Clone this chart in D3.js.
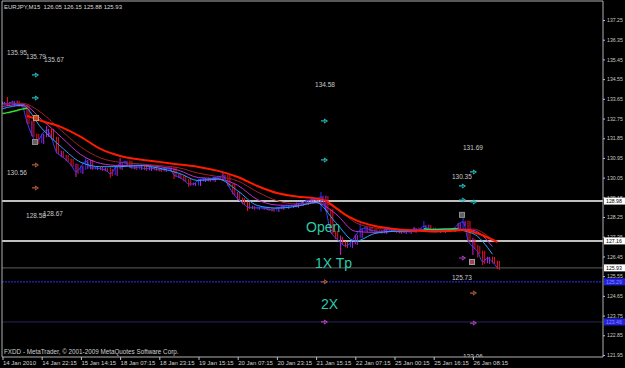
<!DOCTYPE html>
<html><head><meta charset="utf-8">
<script src="https://cdn.jsdelivr.net/npm/d3@7"></script>
<style>body{margin:0;background:#000}svg{display:block}</style></head>
<body>
<svg id="c" width="625" height="368"></svg>
<script>
// ---- data ----
const title = "EURJPY,M15  126.05 126.15 125.88 125.93";
const copyright = "FXDD - MetaTrader, \u00A9 2001-2009 MetaQuotes Software Corp.";
const timeLabels = ["14 Jan 2010","14 Jan 22:15","15 Jan 14:15","18 Jan 07:15","18 Jan 23:15","19 Jan 15:15","20 Jan 07:15","20 Jan 23:15","21 Jan 15:15","22 Jan 07:15","25 Jan 00:15","25 Jan 16:15","26 Jan 08:15"];
const timeTickIdx = [0,8,16,24,32,40,48,56,64,72,80,88,96];
const priceTicks = [137.25,136.35,135.45,134.55,133.65,132.75,131.85,130.95,130.05,129.15,128.25,127.35,126.45,125.55,124.65,123.75,122.85,121.95];
const closes = [133.46,133.41,133.51,133.37,133.32,132.59,132.00,131.68,132.00,132.23,131.86,131.22,131.04,130.86,130.63,130.31,130.54,130.81,130.49,130.49,130.45,130.40,130.22,130.49,130.72,130.77,130.54,130.49,130.54,130.45,130.49,130.45,130.40,130.45,130.49,130.17,130.08,129.94,129.76,129.76,129.94,129.99,129.94,130.04,130.08,130.13,129.72,129.35,129.08,128.89,128.71,128.67,128.67,128.67,128.62,128.57,128.67,128.71,128.76,128.76,128.85,128.89,128.99,129.03,129.08,129.17,128.57,127.57,127.30,127.07,126.93,127.07,127.39,127.66,127.75,127.66,127.62,127.57,127.66,127.66,127.62,127.57,127.57,127.62,127.71,127.66,127.84,127.71,127.62,127.62,127.66,127.66,127.71,127.93,128.03,127.20,126.88,126.66,126.20,126.38,126.20,125.93];
const spikeIdx  = [1,9,15,17,22,24,35,38,45,50,65,69,73,84,86,94,96,97,98];
const spikeHigh = [133.73,132.40,130.60,130.95,130.50,130.95,130.50,129.90,130.31,128.90,129.40,127.40,127.98,127.80,128.07,128.35,127.30,126.98,126.50];
const spikeLow  = [133.30,131.90,130.08,130.40,130.04,130.45,129.99,129.62,129.90,128.53,128.50,126.52,127.30,127.55,127.60,127.70,126.52,126.40,126.06];
const maIdx  = [0,4,8,12,16,20,24,28,32,36,40,44,48,52,56,60,64,68,72,76,80,84,88,92,96,100];
const maFast = [133.20,133.35,132.30,131.45,130.75,130.55,130.55,130.60,130.48,130.25,129.92,129.98,129.45,128.78,128.66,128.74,128.92,128.00,127.15,127.50,127.60,127.62,127.70,127.68,127.50,126.55];
const maMid  = [133.30,133.40,132.70,131.90,131.10,130.70,130.60,130.62,130.55,130.38,130.05,130.00,129.70,129.05,128.80,128.78,128.90,128.40,127.60,127.55,127.60,127.62,127.68,127.70,127.65,126.90];
const maSlow = [133.40,133.45,133.00,132.20,131.45,130.95,130.75,130.68,130.60,130.50,130.25,130.10,129.90,129.40,129.00,128.85,128.92,128.70,128.00,127.75,127.68,127.64,127.66,127.70,127.70,127.20];
const redIdx = [5,8,12,16,20,24,28,32,36,40,44,48,52,56,60,64,66,68,70,72,76,80,84,88,92,94,97,101];
const redMA  = [132.87,132.64,132.36,131.91,131.36,131.04,130.88,130.77,130.65,130.54,130.36,130.08,129.67,129.35,129.19,129.10,128.99,128.67,128.35,128.12,127.84,127.71,127.64,127.59,127.62,127.66,127.50,127.11];
const greenIdx = [0,1,2,3,4,5];
const greenMA  = [132.98,133.02,133.07,133.12,133.18,133.22];
const greenIdx2 = [86,88,90,92,93];
const greenMA2  = [127.72,127.68,127.70,127.72,127.74];
const levelPrices = [128.98,127.16,125.93,125.29,123.46];
const levelLabels = ["128.98","127.16","125.93","125.29","123.46"];
const levelKinds  = ["white","white","bid","blue","navy"];
const noteText  = ["135.95","135.79","135.67","130.56","128.58","128.67","134.58","131.69","130.35","125.73","122.06"];
const noteIdx   = [0.92,4.8,8.47,0.92,4.8,8.27,63.78,93.98,91.73,91.73,93.98];
const notePrice = [135.63,135.47,135.31,130.17,128.21,128.30,134.21,131.29,129.97,125.36,121.79];
const bigText  = ["Open","1X Tp","2X"];
const bigIdx   = [61.94,63.78,65.0];
const bigPrice = [127.57,125.93,124.05];
const arrowIdx   = [6.63,6.63,65.61,65.61,96.02,93.78,93.78,96.02, 6.63,6.63,65.61,96.02, 93.78,65.61,96.02];
const arrowPrice = [134.74,133.69,132.64,130.86,130.31,129.67,129.03,128.94, 130.63,129.58,125.29,124.78, 126.38,123.46,123.41];
const arrowKind  = ["cyan","cyan","cyan","cyan","cyan","cyan","cyan","cyan","brown","brown","brown","brown","mag","mag","mag"];
const boxIdx   = [6.84,6.63,93.78,95.82];
const boxPrice = [132.77,131.68,128.35,126.20];
const boxKind  = ["orange","gray","gray","pink"];

// ---- drawing ----
const svg = d3.select("#c");
const W = 625, H = 368, plotR = 603, plotB = 357, plotL = 2, plotT = 1;
svg.append("rect").attr("width",W).attr("height",H).attr("fill","#000");
const x = d3.scaleLinear().domain([0,96]).range([2.5,472.9]);
const y = d3.scaleLinear().domain([137.25,121.95]).range([20,355]);
const font = "Liberation Sans, Arial, sans-serif";

const g = svg.append("g");
// horizontal levels
const lvlStyle = {white:{c:"#ffffff",w:1.5,d:null},bid:{c:"#4a4a4a",w:1.2,d:null},blue:{c:"#2a2aff",w:1,d:"2,1"},navy:{c:"#26265a",w:1,d:null}};
levelPrices.forEach((p,i)=>{
  const s = lvlStyle[levelKinds[i]];
  g.append("line").attr("x1",plotL).attr("x2",plotR).attr("y1",y(p)).attr("y2",y(p))
   .attr("stroke",s.c).attr("stroke-width",s.w).attr("stroke-dasharray",s.d);
});

// candles
const candles = closes.map((c,i)=>{
  const o = i>0 ? closes[i-1] : c;
  let hi = Math.max(o,c)+0.06, lo = Math.min(o,c)-0.06;
  const k = spikeIdx.indexOf(i);
  if(k>=0){ hi = Math.max(hi,spikeHigh[k]); lo = Math.min(lo,spikeLow[k]); }
  return {i,o,c,hi,lo};
});
g.selectAll(".wick").data(candles).join("line")
  .attr("x1",d=>x(d.i)).attr("x2",d=>x(d.i)).attr("y1",d=>y(d.hi)).attr("y2",d=>y(d.lo))
  .attr("stroke",(d)=> d.i%3===0 ? "#d020d0" : (d.c>=d.o ? "#3030ff" : "#ff1010")).attr("stroke-width",1);
g.selectAll(".wick2").data(candles).join("line")
  .attr("x1",d=>x(d.i)+2).attr("x2",d=>x(d.i)+2).attr("y1",d=>y(Math.max(d.o,d.c))-1).attr("y2",d=>y(Math.min(d.o,d.c))+2)
  .attr("stroke",d=> d.c>=d.o ? "#c020e0" : "#e01030").attr("stroke-width",1);

const lineIdx = d3.line().x(d=>x(d[0])).y(d=>y(d[1])).curve(d3.curveMonotoneX);
const zip = (a,b)=>a.map((v,i)=>[v,b[i]]);
g.append("path").attr("d",lineIdx(zip(maSlow.map((_,i)=>maIdx[i]),maSlow))).attr("fill","none").attr("stroke","#a02020").attr("stroke-width",1);
g.append("path").attr("d",lineIdx(zip(maIdx,maMid))).attr("fill","none").attr("stroke","#c030d0").attr("stroke-width",1);
g.append("path").attr("d",lineIdx(zip(closes.map((_,i)=>i),closes))).attr("fill","none").attr("stroke","#4040ff").attr("stroke-width",1);
g.append("path").attr("d",lineIdx(zip(maIdx,maFast))).attr("fill","none").attr("stroke","#20a8ff").attr("stroke-width",1);
g.append("path").attr("d",lineIdx(zip(greenIdx,greenMA))).attr("fill","none").attr("stroke","#30e030").attr("stroke-width",1.5);
g.append("path").attr("d",lineIdx(zip(greenIdx2,greenMA2))).attr("fill","none").attr("stroke","#30e030").attr("stroke-width",1.2);
g.append("path").attr("d",lineIdx(zip(redIdx,redMA))).attr("fill","none").attr("stroke","#ff1a00").attr("stroke-width",2);

// boxes
const boxCol = {orange:["#d0a060","#c04020"],gray:["#909090","#606060"],pink:["#a0a0a0","#a04060"]};
boxIdx.forEach((bi,i)=>{
  g.append("rect").attr("x",x(bi)-2.5).attr("y",y(boxPrice[i])-2.5).attr("width",5).attr("height",5)
   .attr("fill",boxCol[boxKind[i]][1]).attr("stroke",boxCol[boxKind[i]][0]).attr("stroke-width",1);
});
// arrows
const arrCol = {cyan:"#22b8b8",brown:"#b05a3a",mag:"#b040c0"};
arrowIdx.forEach((ai,i)=>{
  const cx = x(ai), cy = y(arrowPrice[i]);
  const p = `M${cx-3},${cy} L${cx+1},${cy} M${cx},${cy-2} L${cx+3},${cy} L${cx},${cy+2}`;
  g.append("path").attr("d",p).attr("fill","none").attr("stroke",arrCol[arrowKind[i]]).attr("stroke-width",1.2);
});
// notes
noteText.forEach((t,i)=>{
  g.append("text").attr("x",x(noteIdx[i])).attr("y",y(notePrice[i])).text(t)
   .attr("fill","#c8c8c8").attr("font-family",font).attr("font-size",6.5);
});
bigText.forEach((t,i)=>{
  g.append("text").attr("x",x(bigIdx[i])).attr("y",y(bigPrice[i])).text(t)
   .attr("fill","#30c8a8").attr("font-family",font).attr("font-size",14);
});

// frame
svg.append("rect").attr("x",0).attr("y",plotB).attr("width",W).attr("height",H-plotB).attr("fill","#000");
svg.append("rect").attr("x",plotR).attr("y",0).attr("width",W-plotR).attr("height",H).attr("fill","#000");
svg.append("path").attr("d",`M${plotL},${plotB} L${plotL},${plotT} L${plotR},${plotT} L${plotR},${plotB} Z`)
  .attr("fill","none").attr("stroke","#b0b0b0").attr("stroke-width",1);

// x axis
const xa = svg.append("g").attr("transform",`translate(0,${plotB})`)
  .call(d3.axisBottom(x).tickValues(timeTickIdx).tickFormat((d,i)=>timeLabels[i]).tickSize(3).tickPadding(1));
xa.select(".domain").remove();
xa.selectAll("line").attr("stroke","#c0c0c0");
xa.selectAll("text").attr("text-anchor","start").attr("dx",0).attr("fill","#d0d0d0").attr("font-family",font).attr("font-size",6);

// y axis
const ya = svg.append("g").attr("transform",`translate(${plotR},0)`)
  .call(d3.axisRight(y).tickValues(priceTicks).tickFormat(d3.format(".2f")).tickSize(2).tickPadding(2));
ya.select(".domain").remove();
ya.selectAll("line").attr("stroke","#c0c0c0");
ya.selectAll("text").attr("fill","#c8c8c8").attr("font-family",font).attr("font-size",5.2);

// level boxes on axis
levelPrices.forEach((p,i)=>{
  const k = levelKinds[i];
  const bg = (k==="blue"||k==="navy") ? "#2222dd" : "#ffffff";
  const fg = (k==="blue"||k==="navy") ? "#8888ff" : "#000000";
  svg.append("rect").attr("x",plotR+1).attr("y",y(p)-3.5).attr("width",21).attr("height",7).attr("fill",bg);
  svg.append("text").attr("x",plotR+3).attr("y",y(p)+2).text(levelLabels[i]).attr("fill",fg)
    .attr("font-family",font).attr("font-size",5.2);
});

// texts
svg.append("text").attr("x",4).attr("y",9).text(title).attr("fill","#d8d8d8").attr("font-family",font).attr("font-size",6).attr("xml:space","preserve").style("white-space","pre");
svg.append("text").attr("x",4).attr("y",354).text(copyright).attr("fill","#d0d0d0").attr("font-family",font).attr("font-size",6.3);
</script>
</body></html>
